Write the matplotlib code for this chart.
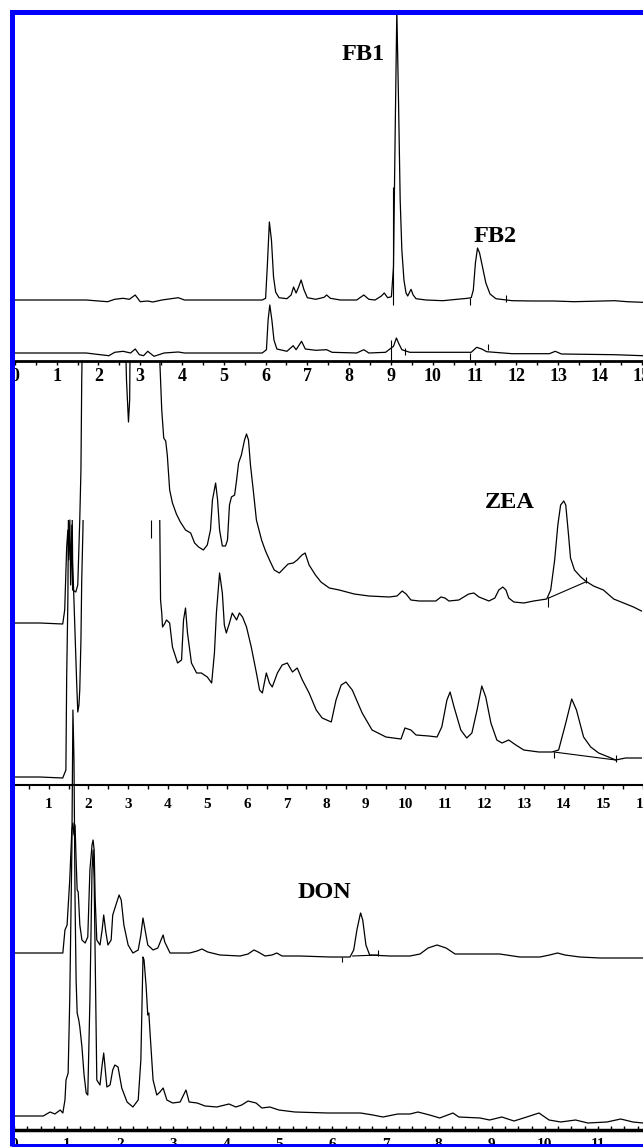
import matplotlib
matplotlib.use("Agg")
import matplotlib.pyplot as plt
from matplotlib.patches import Rectangle
from matplotlib.ticker import MultipleLocator

# DATOS: tiempo de retención (min) y señal del detector (unidades arbitrarias,
# medida desde la línea base de cada trazo)

# Panel FB (fumonisinas): trazo superior y trazo inferior
fb_t_top = [0.00, 1.71, 2.00, 2.22, 2.39, 2.59, 2.74, 2.88, 3.00, 3.18,
            3.30, 3.52, 3.91, 4.06, 5.92, 6.00, 6.04, 6.09, 6.14, 6.19,
            6.24, 6.32, 6.51, 6.61, 6.67, 6.73, 6.79, 6.85, 6.92, 7.00,
            7.20, 7.40, 7.46, 7.55, 7.79, 8.18, 8.35, 8.47, 8.62, 8.77,
            8.84, 8.92, 9.01, 9.06, 9.10, 9.14, 9.18, 9.22, 9.26, 9.31,
            9.36, 9.40, 9.48, 9.53, 9.60, 9.84, 10.24, 10.58, 10.83, 10.92,
            10.97, 11.02, 11.07, 11.12, 11.19, 11.27, 11.37, 11.51, 11.90, 12.40,
            12.89, 13.38, 14.06, 14.35, 14.65, 15.02]
fb_s_top = [0, 0, -1, -1.7, 0.7, 1.7, 0.7, 5, -1.7, -1,
            -2, 0, 2.3, 0, 0, 1.7, 33, 78, 60, 23,
            8, 2.3, 1.3, 5, 13, 7, 13, 20, 10, 2.3,
            0.7, 2.7, 5, 1.7, 0, 0, 5, 0.7, 0, 4,
            7, 2.3, 3.3, 33, 167, 290, 200, 100, 50, 20,
            7, 4, 10.7, 5, 1.3, 0, -0.7, 0.7, 1.7, 2.3,
            10, 37, 52, 47, 33, 17, 6, 1.3, -0.7, -1,
            -1, -1.7, -1, -0.7, -1.7, -2.3]
fb_t_bot = [0.00, 1.71, 1.90, 2.25, 2.39, 2.59, 2.77, 2.88, 2.98, 3.08,
            3.18, 3.33, 3.57, 3.91, 4.06, 5.92, 6.02, 6.06, 6.10, 6.15,
            6.20, 6.27, 6.51, 6.66, 6.73, 6.86, 6.95, 7.20, 7.46, 7.59,
            8.18, 8.35, 8.47, 8.87, 9.06, 9.13, 9.18, 9.26, 9.45, 10.43,
            10.92, 11.05, 11.17, 11.29, 11.90, 12.79, 12.93, 13.08, 14.35, 15.02]
fb_s_bot = [0, 0, -1, -2.7, 0.7, 1.7, 0, 4, -1.7, -2.7,
            1.7, -3.3, 0, 1, 0, 0, 3.3, 33, 48, 33,
            13, 4, 1.7, 7.3, 3.3, 11.7, 4, 2.7, 3.3, 0.7,
            0, 3.3, 0, 0.7, 6.7, 15, 10, 3.3, 0.7, 0.7,
            0.7, 5.7, 4, 1.3, -0.7, -0.7, 1.7, -1, -1.7, -2.7]
# marcas de integración (tiempo, señal baja, señal alta)
fb_mark_top_t = [9.05, 10.90, 11.76]
fb_mark_top_lo = [-5, -5, -2]
fb_mark_top_hi = [113, 2, 5]
fb_mark_bot_t = [9.01, 9.33, 10.90, 11.32]
fb_mark_bot_lo = [-8, -2, -7, 3]
fb_mark_bot_hi = [13, 5, 0, 9]

# Panel ZEA
zea_t_top = [0.12, 0.77, 1.35, 1.40, 1.45, 1.48, 1.50, 1.53, 1.55, 1.58,
             1.60, 1.68, 1.73, 1.78, 1.81, 1.83, 1.86, 2.91, 2.96, 3.01,
             3.04, 3.06, 3.77, 3.80, 3.85, 3.90, 3.95, 3.99, 4.05, 4.12,
             4.22, 4.32, 4.45, 4.58, 4.68, 4.78, 4.90, 5.00, 5.08, 5.13,
             5.21, 5.26, 5.31, 5.38, 5.46, 5.51, 5.56, 5.61, 5.69, 5.74,
             5.79, 5.86, 5.94, 5.99, 6.04, 6.09, 6.16, 6.24, 6.37, 6.47,
             6.57, 6.69, 6.82, 6.94, 7.04, 7.17, 7.27, 7.39, 7.47, 7.57,
             7.73, 7.87, 8.08, 8.33, 8.71, 9.08, 9.59, 9.79, 9.92, 10.02,
             10.14, 10.35, 10.77, 10.90, 11.00, 11.10, 11.35, 11.60, 11.73, 11.86,
             12.11, 12.26, 12.36, 12.46, 12.54, 12.61, 12.74, 12.99, 13.24, 13.57,
             13.67, 13.77, 13.85, 13.92, 14.00, 14.05, 14.12, 14.17, 14.27, 14.43,
             14.55, 14.75, 15.00, 15.26, 15.51, 15.76, 15.96]
zea_s_top = [0, 0, -1, 13, 76, 93, 63, 103, 38, 98,
             33, 31, 38, 103, 153, 243, 323, 323, 243, 201,
             223, 323, 323, 263, 213, 185, 182, 168, 133, 120,
             109, 101, 93, 90, 80, 76, 73, 78, 93, 123,
             140, 123, 93, 77, 77, 83, 118, 126, 128, 143,
             160, 168, 183, 189, 183, 158, 133, 103, 83, 72,
             63, 53, 50, 55, 59, 60, 63, 68, 70, 58,
             48, 41, 35, 33, 29, 27, 26, 27, 32, 29,
             23, 22, 22, 26, 25, 22, 23, 29, 30, 26,
             22, 25, 33, 36, 33, 25, 21, 20, 22, 24,
             33, 63, 98, 118, 122, 118, 88, 65, 53, 46,
             42, 37, 33, 24, 20, 16, 12]
zea_t_bot = [0.12, 0.77, 1.35, 1.43, 1.45, 1.48, 1.50, 1.58, 1.60, 1.65,
             1.70, 1.73, 1.76, 1.78, 1.81, 1.83, 1.86, 1.88, 3.75, 3.80,
             3.82, 3.85, 3.87, 3.92, 3.97, 4.05, 4.12, 4.25, 4.35, 4.40,
             4.45, 4.50, 4.60, 4.73, 4.85, 5.00, 5.11, 5.18, 5.23, 5.31,
             5.38, 5.43, 5.48, 5.56, 5.63, 5.74, 5.81, 5.89, 5.99, 6.11,
             6.24, 6.32, 6.39, 6.49, 6.57, 6.64, 6.77, 6.89, 7.02, 7.15,
             7.27, 7.40, 7.57, 7.75, 7.90, 8.13, 8.25, 8.38, 8.50, 8.66,
             8.91, 9.16, 9.51, 9.89, 9.99, 10.14, 10.27, 10.59, 10.80, 10.92,
             11.05, 11.13, 11.23, 11.40, 11.55, 11.68, 11.81, 11.93, 12.03, 12.16,
             12.31, 12.44, 12.61, 12.79, 12.99, 13.37, 13.70, 13.87, 14.05, 14.20,
             14.32, 14.50, 14.68, 14.88, 15.13, 15.31, 15.56, 15.96]
zea_s_bot = [0, 0, -1, 7, 100, 177, 297, 297, 217, 157,
             97, 65, 72, 87, 137, 197, 247, 297, 297, 257,
             177, 164, 150, 153, 157, 154, 130, 114, 117, 157,
             169, 144, 114, 104, 104, 100, 94, 124, 164, 204,
             184, 152, 144, 154, 164, 157, 164, 160, 150, 130,
             104, 87, 84, 104, 94, 90, 104, 112, 114, 105,
             109, 97, 84, 67, 59, 55, 77, 92, 95, 87,
             64, 47, 40, 38, 49, 47, 42, 41, 40, 50,
             77, 85, 70, 47, 39, 44, 67, 91, 80, 54,
             37, 34, 37, 32, 27, 25, 25, 27, 54, 78,
             67, 40, 30, 24, 20, 17, 19, 19]
# línea base de integración del pico ZEA (t0, s0, t1, s1)
zea_base_top = [13.62, 25, 14.55, 41]
zea_base_bot = [13.75, 25, 15.31, 17]
zea_mark_top_t = [13.59, 14.55]
zea_mark_top_lo = [16, 40]
zea_mark_top_hi = [26, 46]
zea_mark_bot_t = [3.57, 13.75, 15.31]
zea_mark_bot_lo = [239, 19, 15]
zea_mark_bot_hi = [257, 25, 22]

# Panel DON
don_t_top = [0.00, 0.92, 0.96, 1.00, 1.05, 1.09, 1.11, 1.13, 1.15, 1.17,
             1.19, 1.21, 1.24, 1.28, 1.34, 1.39, 1.43, 1.47, 1.49, 1.51,
             1.53, 1.56, 1.62, 1.66, 1.69, 1.73, 1.77, 1.83, 1.86, 1.92,
             1.98, 2.02, 2.07, 2.15, 2.24, 2.34, 2.39, 2.43, 2.47, 2.52,
             2.62, 2.71, 2.77, 2.81, 2.84, 2.94, 3.31, 3.45, 3.54, 3.65,
             3.88, 4.26, 4.41, 4.52, 4.60, 4.73, 4.86, 4.95, 5.05, 5.39,
             5.95, 6.33, 6.40, 6.46, 6.52, 6.53, 6.57, 6.63, 6.70, 7.08,
             7.46, 7.65, 7.80, 7.97, 8.14, 8.31, 8.78, 9.15, 9.53, 9.91,
             10.09, 10.24, 10.38, 10.66, 11.04, 11.85]
don_s_top = [0, 0, 23, 28, 73, 123, 130, 118, 128, 93,
             63, 61, 28, 13, 10, 16, 83, 108, 113, 103,
             53, 13, 8, 23, 38, 21, 8, 13, 38, 48,
             58, 53, 28, 8, 0, 3, 18, 35, 23, 8,
             3, 5, 13, 18, 11, 0, 0, 2, 4, 1,
             -2, -3, -1, 3, 1, -3, -2, 0, -3, -3,
             -4, -4, 3, 23, 38, 40, 33, 8, -2, -3,
             -3, -1, 5, 8, 5, -1, -1, -1, -4, -4,
             -2, 0, -2, -4, -5, -5]
don_t_bot = [0.00, 0.55, 0.68, 0.77, 0.87, 0.92, 0.96, 0.98, 1.02, 1.05,
             1.09, 1.11, 1.13, 1.15, 1.17, 1.19, 1.22, 1.24, 1.28, 1.32,
             1.36, 1.39, 1.43, 1.47, 1.49, 1.51, 1.53, 1.56, 1.62, 1.66,
             1.69, 1.75, 1.81, 1.86, 1.90, 1.96, 2.03, 2.13, 2.24, 2.34,
             2.39, 2.43, 2.45, 2.49, 2.52, 2.54, 2.58, 2.62, 2.69, 2.75,
             2.81, 2.88, 2.99, 3.13, 3.24, 3.30, 3.45, 3.60, 3.82, 4.05,
             4.18, 4.29, 4.41, 4.48, 4.56, 4.67, 4.82, 4.99, 5.29, 5.91,
             6.53, 6.76, 6.95, 7.23, 7.46, 7.61, 7.83, 8.02, 8.27, 8.38,
             8.78, 8.96, 9.19, 9.42, 9.66, 9.89, 10.08, 10.30, 10.58, 10.81,
             11.17, 11.43, 11.66, 11.85]
don_s_bot = [0, 0, 4, 2, 6, 3, 16, 36, 43, 116,
             266, 406, 356, 216, 136, 103, 96, 89, 69, 41,
             23, 21, 116, 246, 266, 236, 156, 36, 31, 51,
             63, 29, 31, 46, 51, 49, 28, 14, 9, 16,
             56, 159, 156, 129, 101, 103, 69, 36, 21, 24,
             28, 16, 13, 14, 26, 14, 13, 10, 9, 12,
             9, 11, 15, 14, 13, 8, 9, 6, 4, 3,
             3, 1, -1, 2, 2, 4, 1, -2, 3, -1,
             -2, -4, -1, -5, -1, 3, -4, -6, -4, -7,
             -6, -3, -6, -7]
don_base_top = [6.38, -3, 6.85, -2]
don_mark_top_t = [6.18, 6.85]
don_mark_top_lo = [-9, -3]
don_mark_top_hi = [-4, 3]

# ESTILO / POSICIÓN
plt.rcParams["font.family"] = ["Liberation Serif", "DejaVu Serif"]
plt.rcParams["font.weight"] = "bold"
W, H = 643, 1147
LW = 0.9

fig = plt.figure(figsize=(W / 100, H / 100), dpi=100)
fig.patch.set_facecolor("white")


def panel(top, bottom, xlim, spine_w, tick_dir, pad, size):
    ax = fig.add_axes([14 / W, 1 - bottom / H, 629 / W, (bottom - top) / H])
    ax.set_facecolor("none")
    for s in ["left", "right", "top"]:
        ax.spines[s].set_visible(False)
    ax.spines["bottom"].set_linewidth(spine_w)
    ax.set_xlim(*xlim)
    ax.set_ylim(0, bottom - top)
    ax.set_yticks([])
    ax.xaxis.set_major_locator(MultipleLocator(1))
    ax.xaxis.set_minor_locator(MultipleLocator(0.5))
    ax.tick_params(axis="x", which="both", direction=tick_dir, length=3,
                   width=1, pad=pad, labelsize=size)
    return ax


def trace(ax, t, s, off, **kw):
    return ax.plot(t, [off + v for v in s], color="black", lw=LW, **kw)[0]


def marks(ax, t, lo, hi, off):
    ax.vlines(t, [off + v for v in lo], [off + v for v in hi],
              color="black", lw=0.8)


def base(ax, b, off):
    ax.plot([b[0], b[2]], [off + b[1], off + b[3]], color="black", lw=0.8)


# Panel FB
ax1 = panel(14, 361, (-0.02, 15.03), 2.0, "out", 2, 13)
trace(ax1, fb_t_top, fb_s_top, 61)
trace(ax1, fb_t_bot, fb_s_bot, 8)
marks(ax1, fb_mark_top_t, fb_mark_top_lo, fb_mark_top_hi, 61)
marks(ax1, fb_mark_bot_t, fb_mark_bot_lo, fb_mark_bot_hi, 8)
ax1.text(8.33, 301, "FB1", ha="center", va="baseline", fontsize=17.5)
ax1.text(11.49, 119, "FB2", ha="center", va="baseline", fontsize=17.5)

# Panel ZEA
ax2 = panel(361, 785, (0.12, 16.0), 1.5, "out", 6.5, 11)
trace(ax2, zea_t_top, zea_s_top, 162)
ln = trace(ax2, zea_t_bot, zea_s_bot, 8)
# ventana de escala del trazo inferior
ln.set_clip_path(Rectangle((-5, -50), 40, 8 + 257 + 50, transform=ax2.transData))
base(ax2, zea_base_top, 162)
base(ax2, zea_base_bot, 8)
marks(ax2, zea_mark_top_t, zea_mark_top_lo, zea_mark_top_hi, 162)
marks(ax2, zea_mark_bot_t, zea_mark_bot_lo, zea_mark_bot_hi, 8)
ax2.text(12.64, 277, "ZEA", ha="center", va="baseline", fontsize=17.5)

# Panel DON
ax3 = panel(785, 1130, (0.0, 11.85), 2.5, "in", 6, 11)
ax3.xaxis.set_minor_locator(MultipleLocator(0.25))
trace(ax3, don_t_top, don_s_top, 177)
trace(ax3, don_t_bot, don_s_bot, 14, clip_on=False)
base(ax3, don_base_top, 177)
marks(ax3, don_mark_top_t, don_mark_top_lo, don_mark_top_hi, 177)
ax3.text(5.85, 232, "DON", ha="center", va="baseline", fontsize=17.5)

# marco azul
fig.add_artist(Rectangle((11.5 / W, 1 - 1145.5 / H), 700 / W, (1145.5 - 11.5) / H,
                         transform=fig.transFigure, fill=False,
                         edgecolor="#0000ff", linewidth=3.6, clip_on=False,
                         zorder=10))

fig.savefig("out.png", dpi=100)
